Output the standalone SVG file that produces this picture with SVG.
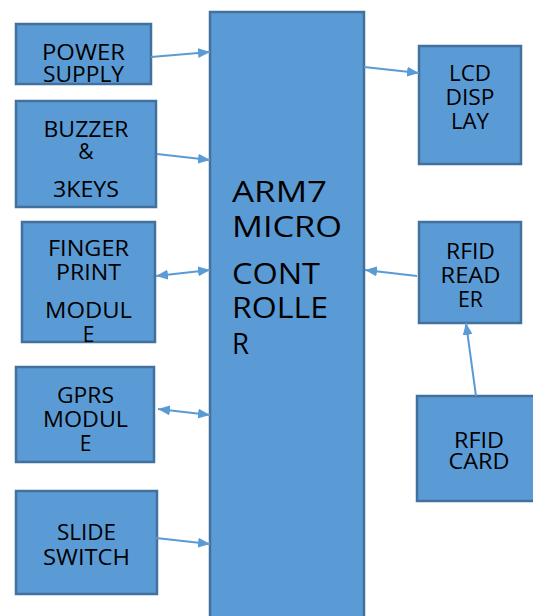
<svg xmlns="http://www.w3.org/2000/svg" width="533" height="616" viewBox="0 0 533 616">
<style>
.box{fill:#5b9bd5;stroke:#41719c;stroke-width:2.5}
.t{font-family:"Open Sans","Noto Sans",sans-serif;font-size:21px;fill:#000;text-anchor:middle}
.m{font-family:"Open Sans","Noto Sans",sans-serif;font-size:30px;fill:#000}
.c{stroke:#5b9bd5;stroke-width:2;fill:none}
</style>
<defs>
<marker id="ah" viewBox="0 0 12 10" refX="12" refY="5" markerWidth="12" markerHeight="10" markerUnits="userSpaceOnUse" orient="auto-start-reverse">
<path d="M0,0 L12,5 L0,10 Z" fill="#5b9bd5"/>
</marker>
</defs>
<rect width="533" height="616" fill="#fff"/>
<g id="controller">
<rect class="box" x="210" y="12" width="154" height="620"/>
<text class="m" x="232" y="202" textLength="95" lengthAdjust="spacingAndGlyphs">ARM7</text>
<text class="m" x="232" y="237" textLength="110" lengthAdjust="spacingAndGlyphs">MICRO</text>
<text class="m" x="232" y="284" textLength="88" lengthAdjust="spacingAndGlyphs">CONT</text>
<text class="m" x="232" y="318" textLength="96" lengthAdjust="spacingAndGlyphs">ROLLE</text>
<text class="m" x="232" y="354" textLength="17" lengthAdjust="spacingAndGlyphs">R</text>
</g>
<g id="power">
<rect class="box" x="16" y="24" width="135" height="60"/>
<text class="t" x="83.5" y="60" textLength="83" lengthAdjust="spacingAndGlyphs">POWER</text>
<text class="t" x="83.5" y="82" textLength="81" lengthAdjust="spacingAndGlyphs">SUPPLY</text>
</g>
<g id="buzzer">
<rect class="box" x="16" y="101" width="140" height="106"/>
<text class="t" x="86" y="137" textLength="85" lengthAdjust="spacingAndGlyphs">BUZZER</text>
<text class="t" x="86" y="159">&amp;</text>
<text class="t" x="86" y="197" textLength="66" lengthAdjust="spacingAndGlyphs">3KEYS</text>
</g>
<g id="finger">
<rect class="box" x="22" y="222" width="133" height="120"/>
<text class="t" x="88.5" y="256" textLength="81" lengthAdjust="spacingAndGlyphs">FINGER</text>
<text class="t" x="88.5" y="280" textLength="65" lengthAdjust="spacingAndGlyphs">PRINT</text>
<text class="t" x="88.5" y="318" textLength="87" lengthAdjust="spacingAndGlyphs">MODUL</text>
<text class="t" x="88.5" y="342">E</text>
</g>
<g id="gprs">
<rect class="box" x="16" y="367" width="138" height="95"/>
<text class="t" x="85.5" y="403" textLength="57" lengthAdjust="spacingAndGlyphs">GPRS</text>
<text class="t" x="85.5" y="427" textLength="85" lengthAdjust="spacingAndGlyphs">MODUL</text>
<text class="t" x="85.5" y="451">E</text>
</g>
<g id="slide">
<rect class="box" x="16" y="491" width="141" height="103"/>
<text class="t" x="86.5" y="540" textLength="59" lengthAdjust="spacingAndGlyphs">SLIDE</text>
<text class="t" x="86.5" y="565" textLength="87" lengthAdjust="spacingAndGlyphs">SWITCH</text>
</g>
<g id="lcd">
<rect class="box" x="419" y="46" width="102" height="118"/>
<text class="t" x="470" y="81" textLength="42" lengthAdjust="spacingAndGlyphs">LCD</text>
<text class="t" x="470" y="105" textLength="49" lengthAdjust="spacingAndGlyphs">DISP</text>
<text class="t" x="470" y="129" textLength="38" lengthAdjust="spacingAndGlyphs">LAY</text>
</g>
<g id="rfid-reader">
<rect class="box" x="419" y="222" width="102" height="101"/>
<text class="t" x="470.5" y="259" textLength="49" lengthAdjust="spacingAndGlyphs">RFID</text>
<text class="t" x="470.5" y="283" textLength="60" lengthAdjust="spacingAndGlyphs">READ</text>
<text class="t" x="470.5" y="307" textLength="25" lengthAdjust="spacingAndGlyphs">ER</text>
</g>
<g id="rfid-card">
<rect class="box" x="417" y="396" width="124" height="105"/>
<text class="t" x="479" y="448" textLength="50" lengthAdjust="spacingAndGlyphs">RFID</text>
<text class="t" x="479" y="469" textLength="61" lengthAdjust="spacingAndGlyphs">CARD</text>
</g>
<g id="connectors">
<line class="c" x1="151" y1="57" x2="210" y2="52" marker-end="url(#ah)"/>
<line class="c" x1="157" y1="154" x2="210" y2="160" marker-end="url(#ah)"/>
<line class="c" x1="156" y1="276" x2="210" y2="270" marker-start="url(#ah)" marker-end="url(#ah)"/>
<line class="c" x1="158" y1="409" x2="210" y2="415" marker-start="url(#ah)" marker-end="url(#ah)"/>
<line class="c" x1="156" y1="538" x2="210" y2="544" marker-end="url(#ah)"/>
<line class="c" x1="364" y1="67" x2="419" y2="73" marker-end="url(#ah)"/>
<line class="c" x1="417" y1="276" x2="365" y2="270" marker-end="url(#ah)"/>
<line class="c" x1="476" y1="396" x2="466" y2="323" marker-end="url(#ah)"/>
</g>
</svg>
